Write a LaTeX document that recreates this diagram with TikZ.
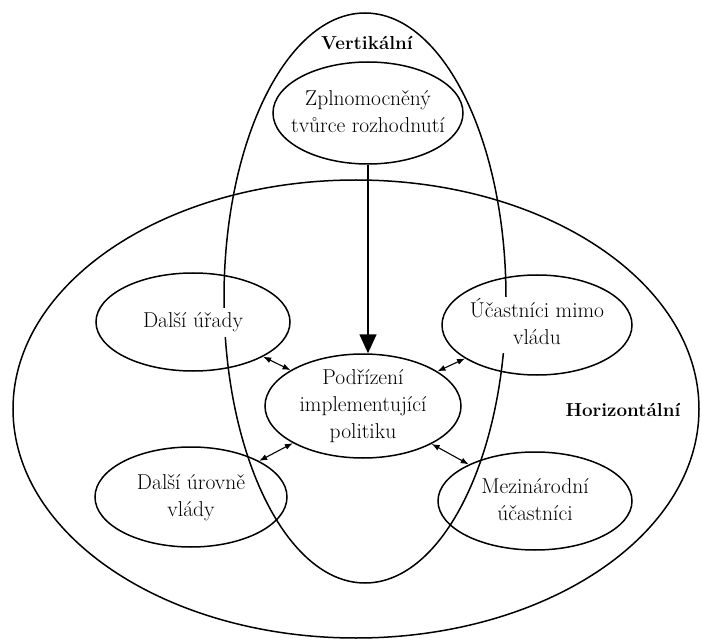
\documentclass[tikz,border=0pt]{standalone}
\usepackage{tikz}
\usetikzlibrary{shapes.geometric,arrows.meta}

\newcommand{\txt}[1]{\makebox[0pt]{\raisebox{-0.25em}{\begin{tabular}{@{}c@{}}#1\end{tabular}}}}
\newcommand{\lbl}[1]{\makebox[0pt]{\raisebox{-0.25em}{\setlength{\fboxsep}{1pt}\colorbox{white}{\begin{tabular}{@{}c@{}}#1\end{tabular}}}}}

\begin{document}
\begin{tikzpicture}[x=1pt,y=-1pt,line width=1.5pt,
	font=\fontsize{21.5}{27}\selectfont,
	oval/.style={ellipse, draw, inner sep=0pt, text height=0pt, text depth=0pt},
	area/.style={font=\fontsize{18.8}{22}\selectfont\bfseries},
	twoway/.style={line width=1.1pt, {Latex[length=8pt,width=6pt]}-{Latex[length=8pt,width=6pt]}}]
	\useasboundingbox (0,0) rectangle (702,639);
	% the two areas
	\draw (365,298) ellipse [x radius=141, y radius=285];
	\draw (356,409) ellipse [x radius=343, y radius=229];
	\node[area] (vert) at (367,43) {Vertikální};
	\node[area] (horiz) at (623,410) {Horizontální};
	\node (top) at (368,113) [oval, minimum width=190, minimum height=102] {\txt{Zplnomocněný\\tvůrce rozhodnutí}};
		\node (urady) at (193,322) [oval, minimum width=194, minimum height=98] {\lbl{Další úřady}};
		\node (mimo) at (537,325) [oval, minimum width=190, minimum height=100] {\lbl{Účastníci mimo\\vládu}};
			\node (sub) at (363,406) [oval, minimum width=196, minimum height=104] {\txt{Podřízení\\implementující\\politiku}};
		\node (urovne) at (191,497) [oval, minimum width=192, minimum height=100] {\lbl{Další úrovně\\vlády}};
		\node (mezin) at (535,501) [oval, minimum width=194, minimum height=98] {\lbl{Mezinárodní\\účastníci}};
	\draw[line width=1.6pt, -{Triangle[length=19pt,width=17pt]}] (top.south) to (top.south |- sub.north);
	\draw[twoway] (urady) to (sub);
	\draw[twoway] (mimo) to (sub);
	\draw[twoway] (urovne) to (sub);
	\draw[twoway] (mezin) to (sub);
\end{tikzpicture}
\end{document}
